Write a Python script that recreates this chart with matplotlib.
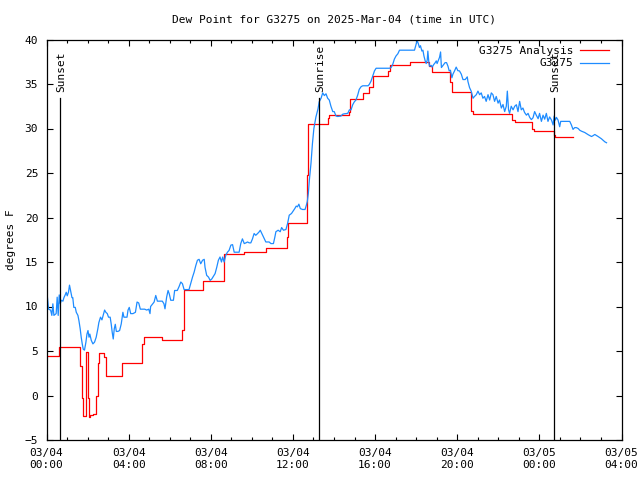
import matplotlib
matplotlib.use('Agg')
import matplotlib.pyplot as plt
from matplotlib.ticker import MultipleLocator, FuncFormatter
import datetime as dt

# hours after 2025-03-04 00:00 UTC
base_time = dt.datetime(2025, 3, 4, 0, 0)

obs_hours = [
    0.03, 0.10, 0.20, 0.26, 0.31, 0.36, 0.47, 0.52, 0.57, 0.62, 0.67, 0.72, 0.80, 0.85,
    0.91, 0.96, 1.01, 1.07, 1.12, 1.17, 1.24, 1.28, 1.33, 1.40, 1.45, 1.53, 1.58, 1.64,
    1.69, 1.74, 1.79, 1.85, 1.92, 1.97, 2.02, 2.07, 2.11, 2.18, 2.26, 2.34, 2.42, 2.50,
    2.55, 2.63, 2.70, 2.76, 2.83, 2.89, 2.96, 3.02, 3.10, 3.15, 3.20, 3.25, 3.30, 3.35,
    3.40, 3.48, 3.56, 3.64, 3.72, 3.77, 3.84, 3.92, 3.97, 4.03, 4.10, 4.21, 4.33, 4.41,
    4.49, 4.57, 4.65, 4.78, 4.88, 4.98, 5.04,
    5.07, 5.24, 5.32, 5.40, 5.48, 5.64, 5.72, 5.77, 5.85, 5.92, 5.98, 6.05, 6.18, 6.24,
    6.37, 6.46, 6.54, 6.62, 6.70, 6.78, 6.94, 7.02, 7.11, 7.19, 7.27, 7.35, 7.43, 7.51,
    7.60, 7.68, 7.72, 7.80, 7.89, 7.97, 8.05, 8.13, 8.21, 8.29, 8.37, 8.45, 8.52, 8.58,
    8.65, 8.73, 8.81, 8.89, 8.98, 9.06, 9.14, 9.27, 9.38, 9.46, 9.54, 9.63, 9.71, 9.79,
    9.87, 9.95, 10.03, 10.11, 10.19, 10.28, 10.36, 10.41,
    10.68, 10.84, 10.93, 11.05, 11.12, 11.17, 11.28, 11.38, 11.45, 11.54, 11.66, 11.74,
    11.82, 11.93, 12.03, 12.09, 12.16, 12.22, 12.29, 12.36, 12.47, 12.59, 12.65, 12.70,
    12.75, 12.80, 12.88, 12.95, 13.02, 13.12, 13.22, 13.28, 13.37, 13.45, 13.53, 13.61,
    13.69, 13.77, 13.85, 13.94, 14.01, 14.10, 14.18, 14.34, 14.42, 14.50, 14.67, 14.75,
    14.83, 14.91, 14.99, 15.07, 15.16, 15.23, 15.32, 15.40, 15.66,
    15.72, 15.80, 15.89, 15.97, 16.05, 16.70, 16.78, 16.86, 16.94, 17.02, 17.11, 17.19,
    17.92, 18.00, 18.05, 18.11, 18.16, 18.21, 18.28, 18.33, 18.38, 18.44, 18.49, 18.54,
    18.57, 18.62, 18.65, 18.73, 18.78, 18.86, 18.93, 18.98, 19.02, 19.09, 19.14, 19.19,
    19.23, 19.28, 19.35, 19.41, 19.48, 19.55, 19.61, 19.67, 19.74, 19.79, 19.87, 19.95,
    20.03, 20.11, 20.20, 20.28, 20.39, 20.49, 20.52, 20.60,
    20.68, 20.77, 20.84, 20.93, 21.01, 21.09, 21.17, 21.25, 21.33, 21.41, 21.50, 21.58,
    21.66, 21.74, 21.82, 21.90, 21.99, 22.06, 22.15, 22.23, 22.31, 22.39, 22.44, 22.50,
    22.55, 22.63, 22.72, 22.80, 22.88, 22.96, 23.04, 23.12, 23.20, 23.28, 23.37, 23.45,
    23.53, 23.61, 23.69, 23.77, 23.85, 23.94, 24.01, 24.10, 24.18, 24.26, 24.34, 24.42,
    24.50, 24.59, 24.67, 24.72, 24.78, 24.83, 24.91, 24.99, 25.04, 25.48, 25.56, 25.64,
    25.72, 25.80, 25.89, 25.97, 26.05, 26.21, 26.38, 26.54, 26.62, 26.70, 26.86, 27.02,
    27.19, 27.27,
]
obs_dewpt = [
    11.4, 9.7, 9.6, 9.0, 10.3, 9.0, 9.2, 11.05, 9.0, 11.3, 10.3, 10.7, 10.6, 11.0,
    11.3, 11.6, 11.2, 11.6, 12.4, 11.8, 11.0, 11.0, 9.9, 9.9, 9.35, 9.0, 8.4, 7.5,
    6.55, 5.8, 5.2, 5.1, 6.0, 6.9, 7.3, 6.55, 6.9, 6.2, 5.8, 6.0, 6.55, 7.5,
    8.2, 8.8, 8.5, 9.0, 9.6, 9.35, 9.2, 8.8, 8.8, 8.05, 7.1, 6.35, 7.5, 8.0,
    7.2, 7.2, 7.3, 8.05, 9.35, 8.8, 8.8, 8.8, 9.6, 9.9, 9.2, 9.2, 9.35, 10.5,
    10.4, 9.7, 9.7, 9.7, 9.6, 9.7, 9.2,
    10.0, 10.5, 11.24, 10.6, 10.6, 10.6, 10.3, 9.74, 11.05, 11.8, 11.4, 10.7, 10.7, 11.8,
    11.8, 12.26, 12.75, 12.56, 11.9, 11.9, 11.9, 12.56, 13.3, 13.87, 14.6, 15.2, 15.3, 14.8,
    15.2, 15.3, 14.4, 13.5, 13.3, 12.93, 13.1, 13.4, 13.7, 14.4, 15.2, 15.56, 15.0, 15.56,
    15.0, 15.75, 16.1, 16.3, 16.9, 16.95, 16.1, 16.1, 16.1, 17.07, 17.6, 17.07, 17.15, 17.25,
    17.15, 17.15, 17.6, 18.2, 18.0, 18.2, 18.4, 18.57,
    17.25, 17.25, 17.07, 17.07, 17.8, 18.4, 18.57, 18.4, 18.87, 18.57, 18.65, 19.33,
    20.26, 20.45, 20.8, 21.0, 21.28, 21.2, 21.5, 21.0, 20.9, 20.9, 21.35, 21.8,
    22.7, 24.2, 26.1, 28.3, 30.0, 31.3, 32.2, 33.0, 33.4, 34.0, 33.7, 33.9,
    33.4, 33.2, 32.5, 31.9, 31.9, 31.4, 31.35, 31.4, 31.6, 31.65, 31.7, 32.1,
    32.1, 32.67, 33.0, 33.2, 33.8, 34.4, 34.7, 34.8, 34.8,
    34.96, 35.3, 35.9, 36.47, 36.77, 36.77, 36.85, 37.2, 37.8, 38.15, 38.4, 38.8,
    38.8, 39.5, 39.9, 39.5, 39.1, 39.3, 38.7, 38.8, 38.15, 37.6, 37.3, 37.7,
    38.7, 37.4, 37.0, 37.1, 36.9, 37.2, 37.4, 37.6, 37.3, 37.7, 38.0, 38.6,
    36.85, 37.0, 37.2, 37.4, 37.4, 37.0, 36.47, 36.55, 35.7, 36.1, 36.47, 36.9,
    36.5, 36.47, 36.1, 35.5, 35.5, 35.8, 35.3, 34.6,
    34.2, 33.4, 33.6, 33.8, 34.2, 33.8, 34.0, 33.4, 33.6, 33.05, 33.8, 33.2,
    34.0, 33.8, 33.05, 33.6, 32.85, 33.2, 32.3, 32.7, 31.9, 32.5, 34.2, 32.1,
    31.7, 32.5, 32.1, 32.5, 32.67, 31.9, 33.05, 32.1, 32.3, 31.8, 31.5, 31.7,
    31.25, 31.0, 31.2, 31.9, 31.5, 31.1, 31.7, 30.8, 31.5, 31.05, 31.7, 30.8,
    31.3, 30.95, 30.4, 31.4, 30.95, 31.25, 30.95, 30.2, 30.8, 30.8, 30.4, 29.9,
    30.1, 30.1, 30.0, 29.8, 29.7, 29.55, 29.3, 29.1, 29.2, 29.33, 29.1, 28.85,
    28.5, 28.4,
]

# analysis values, each held until the next time (step)
ana_hours = [
    0.0, 0.63, 1.63, 1.75, 1.80, 1.90, 2.00, 2.05, 2.12, 2.25, 2.42, 2.50, 2.55, 2.82,
    2.90, 3.69, 4.67, 4.75, 5.64, 6.62, 6.70, 7.63, 8.62, 9.62, 10.68, 11.69, 11.76,
    12.70, 12.74, 13.69, 13.77, 14.75, 14.80, 15.40, 15.70, 15.90, 16.65, 16.75, 17.68,
    18.65, 18.75, 19.67, 19.75, 20.68, 20.75, 22.68, 22.80, 23.64, 23.72, 24.70, 24.75,
    25.64,
]
ana_dewpt = [
    4.4, 5.5, 3.3, -0.3, -2.3, 4.9, -0.3, -2.4, -2.2, -2.1, -0.1, 3.7, 4.8, 4.3,
    2.2, 3.65, 5.8, 6.6, 6.2, 7.4, 11.9, 12.9, 15.9, 16.1, 16.6, 17.8, 19.4,
    24.8, 30.5, 31.2, 31.5, 31.9, 33.3, 34.0, 34.7, 35.9, 36.5, 37.1, 37.5,
    37.0, 36.4, 35.2, 34.1, 32.0, 31.6, 31.0, 30.7, 30.0, 29.7, 29.3, 29.1,
    29.1,
]

sun_events = ['Sunset', 'Sunrise', 'Sunset']
sun_hours = [0.65, 13.28, 24.70]
sun_line_top = 33.4


def time_label(h, pos):
    t = base_time + dt.timedelta(hours=h)
    return t.strftime('%m/%d\n%H:%M')


plt.rcParams['font.family'] = ['DejaVu Sans Mono']
plt.rcParams['font.size'] = 8

fig = plt.figure(figsize=(6.4, 4.8), dpi=100)
ax = fig.add_axes([46.5 / 640, 1 - 440 / 480, 575 / 640, 400.5 / 480])

ax.plot(ana_hours, ana_dewpt, drawstyle='steps-post', color='#ff0000',
        linewidth=0.9, label='G3275 Analysis')
ax.plot(obs_hours, obs_dewpt, color='#1e8cff', linewidth=0.9, label='G3275')

for name, h in zip(sun_events, sun_hours):
    ax.plot([h, h], [-5, sun_line_top], color='black', linewidth=0.9)
    ax.text(h + 0.05, sun_line_top + 0.7, name, rotation=90, ha='center',
            va='bottom', fontsize=8)

ax.set_xlim(0, 28)
ax.set_ylim(-5, 40)
ax.xaxis.set_major_locator(MultipleLocator(4))
ax.xaxis.set_minor_locator(MultipleLocator(1))
ax.xaxis.set_major_formatter(FuncFormatter(time_label))
ax.yaxis.set_major_locator(MultipleLocator(5))
ax.tick_params(which='both', direction='in', top=True, right=True, width=0.8)
ax.tick_params(which='major', length=4.5, pad=6)
ax.tick_params(which='minor', length=2.5)
for s in ax.spines.values():
    s.set_linewidth(0.9)

ax.set_ylabel('degrees F')
ax.yaxis.set_label_coords(-0.053, 0.5)
ax.set_title('Dew Point for G3275 on 2025-Mar-04 (time in UTC)', fontsize=8, pad=12)

ax.legend(loc='upper right', bbox_to_anchor=(1 - 5 / 575, 1 + 1 / 400),
          frameon=False, markerfirst=False, handlelength=2.6,
          handletextpad=0.6, labelspacing=0.2, borderaxespad=0.3, fontsize=8)

fig.savefig('out.png', dpi=100)
